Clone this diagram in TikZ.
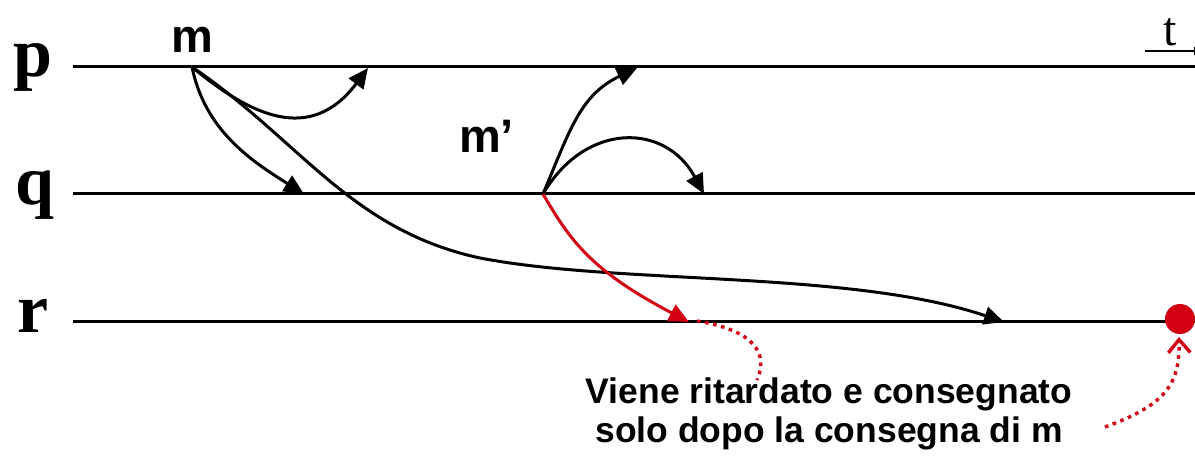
\documentclass[tikz,border=0pt]{standalone}
\usepackage{fontspec}
\setmainfont{Liberation Serif}
\setsansfont{Liberation Sans}
\usetikzlibrary{arrows.meta}
\definecolor{myred}{RGB}{210,0,18}
\tikzset{
  axis/.style={line width=3pt,black},
  msg/.style={line width=3pt,black,-{Triangle[length=20pt,width=18pt]}},
  redmsg/.style={msg,myred},
  dotline/.style={myred,line width=3.4pt,dash pattern=on 3.6pt off 4.6pt},
  proc/.style={font=\fontsize{70}{70}\selectfont\bfseries,inner sep=0pt,anchor=base},
  mlabel/.style={font=\sffamily\bfseries\fontsize{47}{47}\selectfont,inner sep=0pt,anchor=base},
  note/.style={font=\sffamily\bfseries\fontsize{35.5}{39}\selectfont,align=center,inner sep=0pt,anchor=base}
}
\begin{document}
\begin{tikzpicture}[x=1pt,y=-1pt]
\useasboundingbox (0,0) rectangle (1195,457);
% process lines
\coordinate (p0) at (73,67); \coordinate (p1) at (1195,67);
\coordinate (q0) at (73,194); \coordinate (q1) at (1195,194);
\coordinate (r0) at (73,322); \coordinate (r1) at (1195,322);
\draw[axis] (p0) -- (p1);
\draw[axis] (q0) -- (q1);
\draw[axis] (r0) -- (r1);
\node[proc] (P) at (33,77) {p};
\node[proc] (Q) at (35,205) {q};
\node[proc] (R) at (33,332) {r};
% time axis
\node[font=\fontsize{48}{48}\selectfont,inner sep=0pt,anchor=base] (T) at (1170,46) {t};
\coordinate (t0) at (1145,51); \coordinate (t1) at (1204,51);
\draw[line width=2pt,-{Triangle[length=10pt,width=8pt]}] (t0) -- (t1);
% labels
\node[mlabel] (M) at (192,53) {m};
\node[mlabel,anchor=base west] (M2) at (459,153) {m’};
% message m
\coordinate (ms) at (192,67);
\coordinate (mp) at (368,68);
\coordinate (mq) at (304,194);
\coordinate (mr) at (1004,322);
\draw[msg] (ms) .. controls (250,115) and (310,145) .. (mp);
\draw[msg] (ms) .. controls (205,130) and (250,160) .. (mq);
\draw[msg] (ms) .. controls (300,140) and (350,230) .. (480,258) .. controls (620,285) and (850,270) .. (mr);
% message m'
\coordinate (ns) at (543,194);
\coordinate (np) at (637,68);
\coordinate (nq) at (704,194);
\coordinate (nr) at (689,322);
\draw[msg] (ns) .. controls (570,130) and (580,95) .. (np);
\draw[msg] (ns) .. controls (585,122) and (665,122) .. (nq);
\draw[redmsg] (ns) .. controls (570,240) and (590,270) .. (nr);
% delivery dot
\node[circle,fill=myred,minimum size=30pt,inner sep=0pt] (D) at (1180,319) {};
% note
\node[note] (N) at (829,442) {Viene ritardato e consegnato\\solo dopo la consegna di m};
\coordinate (d1) at (697,321);
\coordinate (d1e) at (757,380);
\draw[dotline] (d1) .. controls (740,328) and (772,345) .. (d1e);
\coordinate (d2) at (1105,427);
\coordinate (dt) at (1179,337);
\draw[dotline,-{Straight Barb[length=13pt,width=22pt,line width=3.4pt]}] (d2) .. controls (1165,405) and (1180,385) .. (dt);
\end{tikzpicture}
\end{document}
